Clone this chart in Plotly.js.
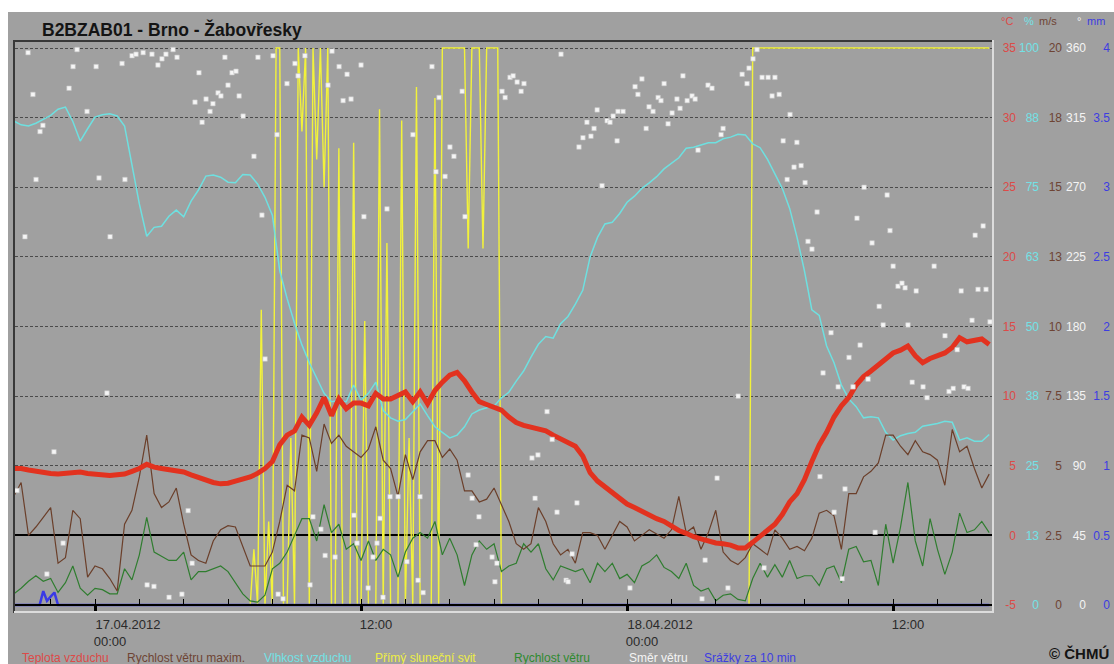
<!DOCTYPE html>
<html><head><meta charset="utf-8">
<script src="https://cdn.plot.ly/plotly-3.0.1.min.js"></script>
<style>html,body{margin:0;padding:0;background:#fff}#chart{width:1114px;height:664px}</style>
</head><body><div id="chart"></div>
<script>
// ---------- DATA ----------
// 20-minute series, starting 16.04.2012 20:20, ending 18.04.2012 16:20
const temperature = [
4.8,4.8,4.7,4.6,4.5,4.45,4.4,4.45,4.5,4.55,
4.45,4.4,4.3,4.3,4.35,4.4,4.6,4.8,5.1,4.9,
4.8,4.7,4.65,4.55,4.35,4.15,3.95,3.8,3.7,3.75,
3.9,4.05,4.2,4.45,4.8,5.3,6.5,7.2,7.5,8.5,
7.9,8.8,9.9,8.6,9.8,9.1,9.5,9.5,9.3,10.2,
9.8,9.8,10.1,10.3,9.6,10.3,9.45,10.4,11.0,11.5,
11.7,11.1,10.3,9.6,9.4,9.2,9.0,8.5,8.1,7.9,
7.75,7.65,7.5,7.2,6.9,6.65,6.4,5.7,4.5,3.9,
3.5,3.1,2.7,2.25,2.0,1.7,1.45,1.2,1.0,0.65,
0.35,0.15,-0.1,-0.25,-0.4,-0.55,-0.6,-0.7,-0.9,-0.9,
-0.5,-0.1,0.3,0.8,1.5,2.4,3.0,4.0,5.3,6.5,
7.4,8.5,9.3,9.9,10.8,11.4,11.8,12.2,12.6,13.1,
13.3,13.6,12.9,12.4,12.7,12.9,13.1,13.5,14.2,13.9,
14.0,14.1,13.7];
const humidity = [
86.9,86.2,86.0,86.5,87.2,87.9,89.0,89.4,86.8,83.3,
85.5,87.6,88.0,88.2,87.8,86.0,79.0,72.0,66.2,67.8,
68.0,69.8,70.9,69.7,72.5,74.5,77.0,77.2,76.8,75.9,
75.8,77.3,77.2,75.6,73.2,70.0,60.0,55.0,50.6,46.7,
43.5,40.6,38.0,36.5,36.7,36.5,39.5,36.8,38.0,40.0,
34.9,33.6,33.0,33.3,34.8,36.1,34.0,32.0,31.0,30.0,
30.5,32.0,34.3,35.0,35.4,35.7,37.2,38.2,40.2,42.0,
44.5,46.8,48.2,47.9,50.5,51.8,54.0,56.5,62.5,66.0,
68.4,68.7,70.3,72.3,73.4,74.8,75.8,76.9,78.3,79.3,
80.3,82.0,82.2,82.6,83.0,83.0,83.7,84.0,84.5,84.4,
82.8,82.1,80.0,77.4,74.8,71.2,66.0,60.0,53.0,52.0,
46.5,43.5,39.5,37.0,35.6,33.6,33.8,33.6,31.0,29.6,
30.4,30.8,31.0,32.1,32.3,32.6,33.0,32.8,29.6,30.0,
29.4,29.4,30.6];
const windMax = [
3.9,4.4,2.5,2.8,3.15,3.5,1.5,1.7,3.4,3.1,
1.0,1.4,1.3,0.95,0.5,2.9,3.4,4.6,6.1,4.0,
3.5,3.7,4.2,2.9,1.8,1.6,1.5,2.3,2.7,2.85,
2.8,2.1,1.4,1.4,1.4,1.9,3.0,4.3,4.1,6.1,
6.0,4.8,6.5,5.8,6.1,5.7,5.5,5.3,5.6,6.4,
5.2,4.9,3.9,5.4,4.5,5.5,5.9,5.9,5.3,5.6,
5.2,4.1,4.1,3.7,3.8,4.2,3.6,3.0,2.2,2.0,
2.2,3.5,3.0,2.2,1.8,2.0,1.5,2.6,2.6,2.5,
2.0,2.5,3.0,2.8,2.3,2.5,2.7,2.55,2.4,2.7,
3.9,2.6,2.8,2.0,2.6,3.4,1.9,1.6,1.45,1.7,
2.2,2.0,1.8,2.7,2.4,2.0,2.1,1.95,2.4,3.3,
3.4,3.2,2.0,4.0,4.0,4.6,4.8,5.1,6.1,6.1,
5.7,5.4,5.9,5.5,5.4,5.2,4.3,6.3,5.5,5.7,
4.9,4.2,4.7];
const windSpeed = [
0.4,0.6,0.85,1.05,0.85,0.95,0.45,0.8,1.4,0.6,
0.35,0.6,0.55,0.4,0.4,1.3,0.9,1.8,3.15,1.9,
1.75,1.6,1.6,1.9,0.9,1.2,1.2,1.3,1.4,1.2,
0.8,0.4,0.15,0.1,0.35,1.3,1.5,1.9,2.5,3.1,
3.1,2.3,3.6,2.6,2.9,2.0,2.2,1.6,2.3,1.6,
2.0,1.8,1.0,1.9,2.4,2.6,2.4,3.0,1.8,2.4,
1.8,0.7,1.8,2.3,2.0,2.2,1.2,1.4,1.5,2.2,
1.9,2.2,1.3,0.9,1.4,1.3,1.2,1.3,0.8,1.5,
1.2,1.5,0.95,1.1,0.8,1.4,1.55,1.8,1.35,1.2,
0.95,1.5,0.7,0.5,0.6,0.15,0.35,0.4,0.2,0.15,
0.95,1.5,1.0,1.45,1.0,1.6,0.95,1.05,1.05,0.7,
1.3,1.4,0.8,2.0,2.1,1.55,1.6,0.7,2.9,1.5,
2.8,4.4,2.3,1.4,3.1,2.0,1.1,1.9,3.3,2.6,
2.7,3.0,2.6];

// Sunshine (% of the 10-min interval): 10-min values 17.04 07:00 - 18:30
const sunDay = [
0,10,0,53,0,15,0,100,100,0,
0,30,0,100,85,100,0,100,80,100,
75,100,0,0,82,0,0,0,83,0,
0,51,0,0,0,89,0,65,0,0,
0,87,0,30,0,93,0,0,0,0,
91,0,100,100,100,100,100,100,100,64,
100,100,100,64,100,100,100,100,0,0];
// other sunshine samples: hours from 17.04 00:00
const sunOtherHours = [-3.6667, 6.8333, 29.5, 29.6667, 40.3333];
const sunOtherValues = [0, 0, 0, 100, 100];

// precipitation (mm per 10 min)
const precipHours = [-3.6667,-2.5,-2.3333,-2.1667,-2.0,-1.8333,-1.6667,40.3333];
const precipValues = [0,0,0.1,0.03,0.06,0.09,0,0];

// wind direction: hours from 17.04 00:00, degrees
const dirHours = [
-3.52,-3.16,-3.02,-2.80,-2.66,-2.48,-2.35,-2.17,-1.85,-1.44,-1.17,-0.99,-0.81,-0.36,0.05,0.18,0.54,0.68,1.22,1.35,1.67,1.85,2.17,2.35,2.57,2.66,2.84,3.02,3.20,3.34,3.52,3.70,3.92,4.20,4.38,4.51,4.69,4.83,5.01,
5.19,5.32,5.55,5.68,5.86,6.00,6.18,6.36,6.50,6.68,7.17,7.35,7.53,7.67,8.03,8.21,8.26,8.48,8.66,9.02,9.16,9.47,9.70,9.83,10.19,10.38,10.51,10.69,10.83,11.01,11.19,11.37,11.55,11.68,11.82,12.00,12.13,12.32,12.54,12.72,12.86,12.99,13.17,13.31,13.67,
14.07,14.34,14.57,14.66,14.80,15.20,15.38,15.52,15.79,16.01,16.19,16.56,16.69,16.83,17.01,17.19,17.32,17.91,18.04,18.13,18.36,18.50,18.72,18.86,19.04,19.22,19.35,19.71,19.85,19.98,20.39,20.62,20.84,21.02,21.25,21.34,21.52,21.74,21.83,22.01,22.19,22.37,22.51,22.65,22.87,
23.10,23.23,23.37,23.55,23.59,23.82,24.13,24.36,24.49,24.67,24.86,24.99,25.17,25.40,25.53,25.67,25.85,26.03,26.25,26.39,26.52,26.71,26.93,27.07,27.20,27.38,27.52,27.65,27.83,28.06,28.24,28.33,28.55,29.01,29.19,29.41,29.50,29.68,29.86,30.09,30.18,30.36,30.54,30.67,30.86,31.04,31.22,31.35,31.53,
31.66,31.85,32.03,32.16,32.34,32.57,32.70,32.84,33.20,33.34,33.52,33.70,33.83,34.01,34.19,34.37,34.51,34.69,34.87,35.05,35.19,35.37,35.55,35.73,35.86,36.00,36.22,36.40,36.54,36.67,36.86,37.04,37.35,37.53,37.85,38.34,38.52,38.71,38.89,39.07,39.20,39.38,39.56,39.70,39.83,40.06,40.19,40.37];
const dirDeg = [
74,238,357,330,275,306,310,20,99,40,334,348,359,319,348,276,137,238,350,275,355,356,357,13,356,12,349,353,356,5,359,354,7,61,27,325,344,312,327,
319,324,331,329,354,336,344,345,329,316,290,354,252,159,355,304,7,4,337,350,342,355,13,57,49,32,336,358,31,348,326,343,327,58,40,349,251,11,31,40,56,5,256,70,70,
28,304,16,70,8,348,280,328,277,296,290,332,251,84,69,39,57,31,15,27,332,328,341,342,338,332,337,95,69,97,125,107,60,356,16,15,33,66,296,302,312,303,308,320,271,
313,312,316,300,319,319,11,335,330,340,308,322,319,328,326,337,311,318,327,321,342,326,329,327,294,4,29,336,334,82,304,308,11,135,343,337,347,353,359,341,24,341,329,341,330,300,275,317,283,
299,284,273,235,230,254,83,150,176,60,141,17,75,160,141,250,168,270,146,234,47,193,181,265,242,219,206,208,205,181,144,203,141,134,219,174,138,140,165,203,141,140,184,239,204,245,204,183];

// axis ticks
const tempTicks = [-5,0,5,10,15,20,25,30,35];
const humTickVals = [0,12.5,25,37.5,50,62.5,75,87.5,100];
const humTickText = ['0','13','25','38','50','63','75','88','100'];
const windTickVals = [0,2.5,5,7.5,10,12.5,15,17.5,20];
const windTickText = ['0','2.5','5','7.5','10','13','15','18','20'];
const dirTickVals = [0,45,90,135,180,225,270,315,360];
const mmTickVals = [0,0.5,1,1.5,2,2.5,3,3.5,4];
const mmTickText = ['0','0.5','1','1.5','2','2.5','3','3.5','4'];
const majorTickHours = [0,12,24,36];
const majorTickDate = ['17.04.2012','','18.04.2012',''];
const majorTickTime = ['00:00','12:00','00:00','12:00'];
const legendNames = ['Teplota vzduchu','Rychlost větru maxim.','Vlhkost vzduchu','Přímý sluneční svit','Rychlost větru','Směr větru','Srážky za 10 min'];

// ---------- helpers ----------
const BASE = Date.UTC(2012,3,17,0,0,0);
function hStr(h){const d=new Date(BASE+Math.round(h*3600)*1000);return d.toISOString().slice(0,19).replace('T',' ');}
const gridStartH = -11/3, gridStepH = 1/3;
const gridTimes = temperature.map((_,i)=>hStr(gridStartH+i*gridStepH));
const sunX = [hStr(sunOtherHours[0]),hStr(sunOtherHours[1])]
  .concat(sunDay.map((_,k)=>hStr(7+k/6)))
  .concat(sunOtherHours.slice(2).map(hStr));
const sunY = [sunOtherValues[0],sunOtherValues[1]].concat(sunDay).concat(sunOtherValues.slice(2));

// geometry (pixels)
const L=15, PW=1099, PLOT_R=993, TOP=40, BOT=613, PH=BOT-TOP;
const px = v=>(v-L)/PW;
const py = v=>(BOT-v)/PH;
const xEnd = px(PLOT_R);
const xRange=[hStr((15-95)/22.17), hStr((993-95)/22.17)];
const FONT='Liberation Sans, Arial, sans-serif';
const C = {red:'#e2321f',cyan:'#6ee0e0',brown:'#6b3f2a',yellow:'#f2f23a',green:'#2f7d2f',white:'#f6f6f6',blue:'#3a3ae6'};
const LBL = {red:'#dd4a48',cyan:'#72e2e6',brown:'#6e4434',white:'#f4f4f4',blue:'#3d3de0'};

// axes: y = %, y2 = m/s, y3 = degC (grid), y4 = mm, y5 = deg  (numbering sets drawing order)
const traces = [
 {x:sunX,y:sunY,yaxis:'y',mode:'lines',line:{color:C.yellow,width:1.4},hoverinfo:'skip'},
 {x:gridTimes,y:humidity,yaxis:'y',mode:'lines',line:{color:C.cyan,width:1.5},hoverinfo:'skip'},
 {x:gridTimes,y:windSpeed,yaxis:'y2',mode:'lines',line:{color:C.green,width:1.2},hoverinfo:'skip'},
 {x:gridTimes,y:windMax,yaxis:'y2',mode:'lines',line:{color:C.brown,width:1.2},hoverinfo:'skip'},
 {x:gridTimes,y:temperature,yaxis:'y3',mode:'lines',line:{color:C.red,width:5},hoverinfo:'skip'},
 {x:precipHours.map(hStr),y:precipValues,yaxis:'y4',mode:'lines',line:{color:C.blue,width:2.5},hoverinfo:'skip'},
 {x:dirHours.map(hStr),y:dirDeg,yaxis:'y5',mode:'markers',marker:{symbol:'square',size:4.5,color:C.white,line:{width:0.6,color:'#c4c4c4'}},hoverinfo:'skip'}
];

const yTemp=[-5.5745,35.5745], yHum=[-1.436,101.436], yWind=[-0.2873,20.2873], yDir=[-5.171,365.171], yMm=[-0.05745,4.05745];
function labelAxis(range,vals,text,color,posPx,extra){
  return Object.assign({range:range,tickmode:'array',tickvals:vals,ticktext:text,anchor:'free',position:px(posPx),side:'left',
    ticks:'',showline:false,showgrid:false,zeroline:false,fixedrange:true,
    tickfont:{family:FONT,size:12,color:color}},extra||{});
}
const NB='\u00a0';

const annotations = [];
annotations.push({xref:'paper',yref:'paper',x:px(40),y:py(30),xanchor:'left',yanchor:'middle',showarrow:false,
  text:'<b>B2BZAB01 - Brno - Žabovřesky</b>',font:{family:FONT,size:17.5,color:'#141414'}});
const unitText=['°C','%','m/s','°','mm'], unitColor=[LBL.red,LBL.cyan,LBL.brown,LBL.white,LBL.blue], unitRight=[1015,1036,1059,1083,1107];
unitText.forEach((t,i)=>annotations.push({xref:'paper',yref:'paper',x:px(unitRight[i]),y:py(21),xanchor:'right',yanchor:'middle',showarrow:false,text:t,font:{family:FONT,size:11,color:unitColor[i]}}));
const legColor=[LBL.red,LBL.brown,LBL.cyan,'#eeee44','#2f8a2f',LBL.white,LBL.blue], legLeft=[20,125,262,373,512,627,702];
legendNames.forEach((t,i)=>annotations.push({xref:'paper',yref:'paper',x:px(legLeft[i]),y:py(658),xanchor:'left',yanchor:'middle',showarrow:false,text:t,font:{family:FONT,size:12,color:legColor[i]}}));
annotations.push({xref:'paper',yref:'paper',x:px(1111),y:py(653),xanchor:'right',yanchor:'middle',showarrow:false,text:'<b>© ČHMÚ</b>',font:{family:FONT,size:15,color:'#141414'}});

const shapes = [
 {type:'rect',xref:'paper',yref:'paper',x0:px(0),x1:px(1114),y0:py(0),y1:py(12),fillcolor:'#ffffff',line:{width:0},layer:'above'},
 {type:'rect',xref:'paper',yref:'paper',x0:px(0),x1:px(8),y0:py(0),y1:py(664),fillcolor:'#ffffff',line:{width:0},layer:'above'},
 {type:'line',xref:'paper',yref:'paper',x0:px(13),x1:px(993),y0:py(41),y1:py(41),line:{color:'#383838',width:2},layer:'above'},
 {type:'line',xref:'paper',yref:'paper',x0:px(14),x1:px(14),y0:py(40),y1:py(613),line:{color:'#383838',width:2},layer:'above'},
 {type:'line',xref:'paper',yref:'paper',x0:px(993),x1:px(993),y0:py(40),y1:py(613),line:{color:'#dcdcdc',width:2},layer:'above'},
 {type:'line',xref:'paper',yref:'paper',x0:px(14),x1:px(993),y0:py(612),y1:py(612),line:{color:'#dcdcdc',width:2},layer:'above'}
];

// labels: left-aligned look by padding with no-break spaces and shifting
const majorText = majorTickHours.map((h,i)=> majorTickDate[i] ? majorTickDate[i]+'<br>'+majorTickTime[i]+NB.repeat(10) : majorTickTime[i]+NB.repeat(10));
const tickFont = {family:FONT,size:13,color:'#2a2a2a'};
const layout = {
  width:1114,height:664,margin:{l:L,r:0,t:TOP,b:664-BOT,pad:0},
  paper_bgcolor:'#a0a0a0',plot_bgcolor:'#a0a0a0',showlegend:false,hovermode:false,
  xaxis:{type:'date',range:xRange,domain:[0,xEnd],anchor:'free',position:py(605),
    tickmode:'array',tickvals:majorTickHours.map(hStr),ticktext:majorText,
    ticks:'outside',ticklen:7,tickwidth:3,tickcolor:'#000',showline:true,linecolor:'#000',linewidth:2,
    showgrid:false,zeroline:false,fixedrange:true,tickfont:tickFont,ticklabelshift:33,
    minor:{tickmode:'linear',tick0:hStr(0),dtick:7200000,ticks:'inside',ticklen:5,tickwidth:1,tickcolor:'#000',showgrid:false}},
  yaxis:labelAxis(yHum,humTickVals,humTickText,LBL.cyan,1039),
  yaxis2:labelAxis(yWind,windTickVals,windTickText,LBL.brown,1062,{overlaying:'y'}),
  yaxis3:labelAxis(yTemp,tempTicks,tempTicks.map(String),LBL.red,1016,
    {overlaying:'y',showgrid:true,gridcolor:'#4a4a4a',gridwidth:1,griddash:'3px,2px',zeroline:true,zerolinecolor:'#000',zerolinewidth:2}),
  yaxis4:labelAxis(yMm,mmTickVals,mmTickText,LBL.blue,1110,{overlaying:'y'}),
  yaxis5:labelAxis(yDir,dirTickVals,dirTickVals.map(String),LBL.white,1086,{overlaying:'y'}),
  annotations:annotations,shapes:shapes
};
Plotly.newPlot('chart',traces,layout,{staticPlot:true,displayModeBar:false});
</script></body></html>
